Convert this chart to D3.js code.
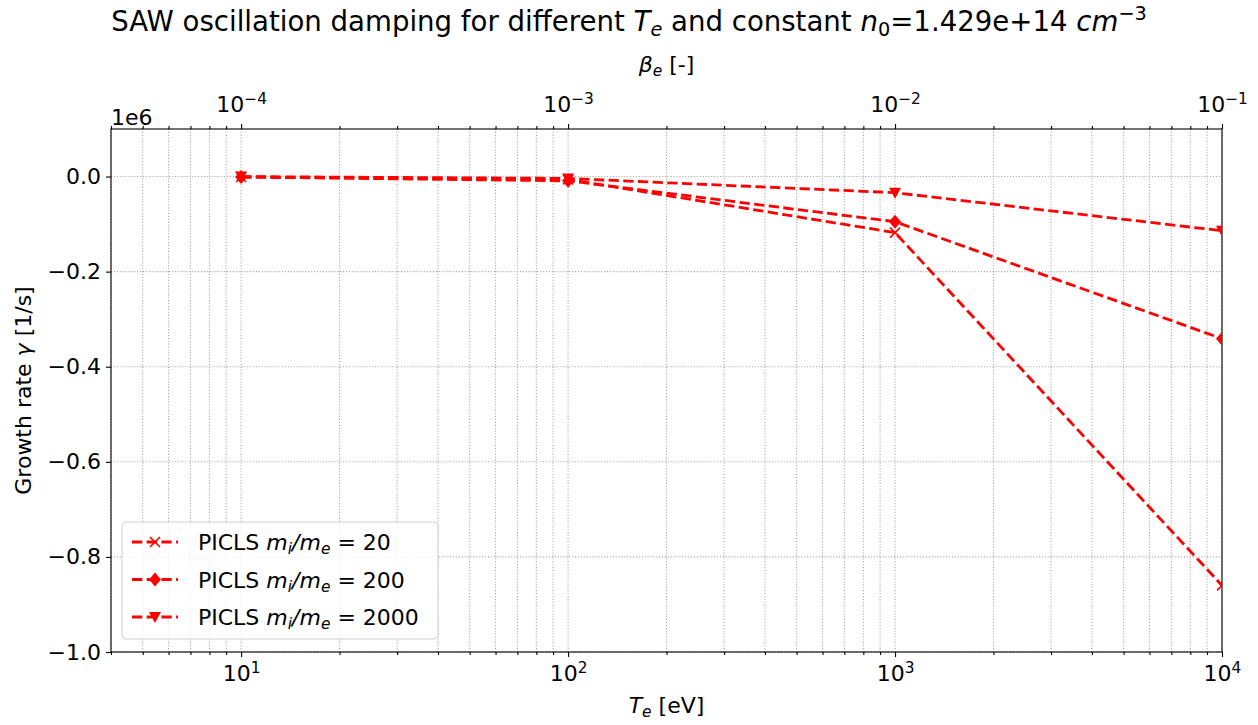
<!DOCTYPE html>
<html>
<head>
<meta charset="utf-8">
<script src="https://cdn.jsdelivr.net/npm/d3@7"></script>
<style>
  body { margin: 0; background: #fff; }
  text { font-family: "DejaVu Sans", sans-serif; fill: #000; }
</style>
</head>
<body>
<script>
// temperatures (eV) and growth rates (units of 1e6 1/s)
var temps = [10, 100, 1000, 10000];
var gamma20 = [-0.001, -0.006, -0.118, -0.860];
var gamma200 = [-0.001, -0.009, -0.095, -0.341];
var gamma2000 = [0.000, -0.004, -0.034, -0.114];
var massRatios = ["20", "200", "2000"];
var markers = ["x", "diamond", "tri"];
var yTicks = [0.0, -0.2, -0.4, -0.6, -0.8, -1.0];
var betaFactor = 1e-5; // beta_e = T_e * 1e-5

var W = 1258, H = 725;
var m = {left: 111, right: 1222, top: 129, bottom: 652};
var FS = 22;

var svg = d3.select("body").append("svg")
    .attr("width", W)
    .attr("height", H);

var x = d3.scaleLog().domain([4, 10000]).range([m.left, m.right]);
var xTop = d3.scaleLog().domain([4 * betaFactor, 10000 * betaFactor]).range([m.left, m.right]);
var y = d3.scaleLinear().domain([-1.0, 0.1]).range([m.bottom, m.top]);

var allTicks = x.ticks();
var isMajor = function(v) { return Math.abs(Math.log10(v) - Math.round(Math.log10(v))) < 1e-9; };
var majors = allTicks.filter(isMajor);
var minors = allTicks.filter(function(v) { return !isMajor(v); });

// grid
var grid = svg.append("g").attr("stroke", "#a8a8a8").attr("stroke-width", 1.1).attr("stroke-dasharray", "1.1,1.8");
allTicks.forEach(function(t) {
    grid.append("line").attr("x1", x(t)).attr("x2", x(t)).attr("y1", m.top).attr("y2", m.bottom);
});
yTicks.forEach(function(t) {
    grid.append("line").attr("x1", m.left).attr("x2", m.right).attr("y1", y(t)).attr("y2", y(t));
});

function sup(sel, base, exp) {
    sel.text(null);
    sel.append("tspan").text(base);
    sel.append("tspan").attr("dy", "-0.5em").attr("font-size", "0.7em").text(exp);
}

// bottom axis
var xAxis = svg.append("g")
    .attr("transform", "translate(0," + m.bottom + ")")
    .call(d3.axisBottom(x).tickValues(majors).tickSize(5).tickPadding(8).tickFormat(""));
xAxis.selectAll(".tick text").each(function(d) {
    sup(d3.select(this), "10", String(Math.round(Math.log10(d))));
});
svg.append("g")
    .attr("transform", "translate(0," + m.bottom + ")")
    .call(d3.axisBottom(x).tickValues(minors).tickSize(3).tickFormat(""));

// top axis
var xAxisTop = svg.append("g")
    .attr("transform", "translate(0," + m.top + ")")
    .call(d3.axisTop(xTop).tickValues(majors.map(function(v) { return v * betaFactor; })).tickSize(5).tickPadding(12).tickFormat(""));
xAxisTop.selectAll(".tick text").each(function(d) {
    sup(d3.select(this), "10", "\u2212" + String(Math.round(-Math.log10(d))));
});
svg.append("g")
    .attr("transform", "translate(0," + m.top + ")")
    .call(d3.axisTop(xTop).tickValues(minors.map(function(v) { return v * betaFactor; })).tickSize(3).tickFormat(""));

// left axis
svg.append("g")
    .attr("transform", "translate(" + m.left + ",0)")
    .call(d3.axisLeft(y).tickValues(yTicks).tickSize(5).tickPadding(5)
        .tickFormat(function(d) { return d3.format(".1f")(d).replace("-", "\u2212"); }));

svg.selectAll(".tick text").attr("font-size", FS).attr("font-family", "DejaVu Sans");
svg.selectAll(".domain").remove();
svg.selectAll(".tick line").attr("stroke", "#000").attr("stroke-width", 1.1);

// frame
svg.append("rect")
    .attr("x", m.left).attr("y", m.top)
    .attr("width", m.right - m.left).attr("height", m.bottom - m.top)
    .attr("fill", "none").attr("stroke", "#000").attr("stroke-width", 1.1);

svg.append("clipPath").attr("id", "clip")
    .append("rect")
    .attr("x", m.left).attr("y", m.top)
    .attr("width", m.right - m.left).attr("height", m.bottom - m.top);

// series
var series = [gamma20, gamma200, gamma2000];
var line = d3.line().x(function(d) { return x(d[0]); }).y(function(d) { return y(d[1]); });

function drawMarker(g, type, cx, cy) {
    if (type === "x") {
        var s = 5;
        g.append("path")
            .attr("d", "M" + (cx - s) + "," + (cy - s) + "L" + (cx + s) + "," + (cy + s) + "M" + (cx - s) + "," + (cy + s) + "L" + (cx + s) + "," + (cy - s))
            .attr("stroke", "red").attr("stroke-width", 1.6).attr("fill", "none");
    } else if (type === "diamond") {
        g.append("path")
            .attr("d", "M" + cx + "," + (cy - 7) + "L" + (cx + 6) + "," + cy + "L" + cx + "," + (cy + 7) + "L" + (cx - 6) + "," + cy + "Z")
            .attr("fill", "red");
    } else {
        g.append("path")
            .attr("d", "M" + (cx - 6) + "," + (cy - 5) + "L" + (cx + 6) + "," + (cy - 5) + "L" + cx + "," + (cy + 6) + "Z")
            .attr("fill", "red");
    }
}

var plot = svg.append("g").attr("clip-path", "url(#clip)");
series.forEach(function(vals, i) {
    var pts = temps.map(function(t, j) { return [t, vals[j]]; });
    plot.append("path")
        .datum(pts)
        .attr("d", line)
        .attr("fill", "none")
        .attr("stroke", "red")
        .attr("stroke-width", 2.8)
        .attr("stroke-dasharray", "10.3,4.4");
    pts.forEach(function(p) {
        drawMarker(plot, markers[i], x(p[0]), y(p[1]));
    });
});

// offset text
svg.append("text").attr("x", m.left).attr("y", 125).attr("font-size", FS).text("1e6");

// title (figure suptitle)
var title = svg.append("text").attr("x", W / 2).attr("y", 31)
    .attr("text-anchor", "middle").attr("font-size", 27.6);
title.append("tspan").text("SAW oscillation damping for different ");
title.append("tspan").attr("font-style", "italic").text("T");
title.append("tspan").attr("dy", 5).attr("font-size", 19.3).attr("font-style", "italic").text("e");
title.append("tspan").attr("dy", -5).text(" and constant ");
title.append("tspan").attr("font-style", "italic").text("n");
title.append("tspan").attr("dy", 5).attr("font-size", 19.3).text("0");
title.append("tspan").attr("dy", -5).text("=1.429e+14 ");
title.append("tspan").attr("font-style", "italic").text("cm");
title.append("tspan").attr("dy", -11).attr("font-size", 19.3).text("\u22123");

// top label
var topLab = svg.append("text").attr("x", (m.left + m.right) / 2).attr("y", 72)
    .attr("text-anchor", "middle").attr("font-size", FS);
topLab.append("tspan").attr("font-style", "italic").text("\u03b2");
topLab.append("tspan").attr("dy", 4).attr("font-size", 15.4).attr("font-style", "italic").text("e");
topLab.append("tspan").attr("dy", -4).text(" [-]");

// bottom label
var botLab = svg.append("text").attr("x", (m.left + m.right) / 2).attr("y", 713)
    .attr("text-anchor", "middle").attr("font-size", FS);
botLab.append("tspan").attr("font-style", "italic").text("T");
botLab.append("tspan").attr("dy", 4).attr("font-size", 15.4).attr("font-style", "italic").text("e");
botLab.append("tspan").attr("dy", -4).text(" [eV]");

// y label
var yLab = svg.append("text")
    .attr("transform", "translate(31," + ((m.top + m.bottom) / 2) + ") rotate(-90)")
    .attr("text-anchor", "middle").attr("font-size", FS);
yLab.append("tspan").text("Growth rate ");
yLab.append("tspan").attr("font-style", "italic").text("\u03b3");
yLab.append("tspan").text(" [1/s]");

// legend
var leg = svg.append("g");
leg.append("rect")
    .attr("x", 122).attr("y", 522).attr("width", 316).attr("height", 117)
    .attr("rx", 4).attr("fill", "#fff").attr("fill-opacity", 0.8)
    .attr("stroke", "#d0d0d0").attr("stroke-width", 1);
massRatios.forEach(function(r, i) {
    var ly = 542 + i * 37.5;
    leg.append("line")
        .attr("x1", 132).attr("x2", 178).attr("y1", ly).attr("y2", ly)
        .attr("stroke", "red").attr("stroke-width", 2.8).attr("stroke-dasharray", "10.3,4.4");
    drawMarker(leg, markers[i], 155, ly);
    var t = leg.append("text").attr("x", 198).attr("y", ly + 8).attr("font-size", FS);
    t.append("tspan").text("PICLS ");
    t.append("tspan").attr("font-style", "italic").text("m");
    t.append("tspan").attr("dy", 4).attr("font-size", 15.4).attr("font-style", "italic").text("i");
    t.append("tspan").attr("dy", -4).attr("font-style", "italic").text("/m");
    t.append("tspan").attr("dy", 4).attr("font-size", 15.4).attr("font-style", "italic").text("e");
    t.append("tspan").attr("dy", -4).text(" = " + r);
    t.append("tspan").attr("dx", 0).text("");
});
</script>
</body>
</html>
